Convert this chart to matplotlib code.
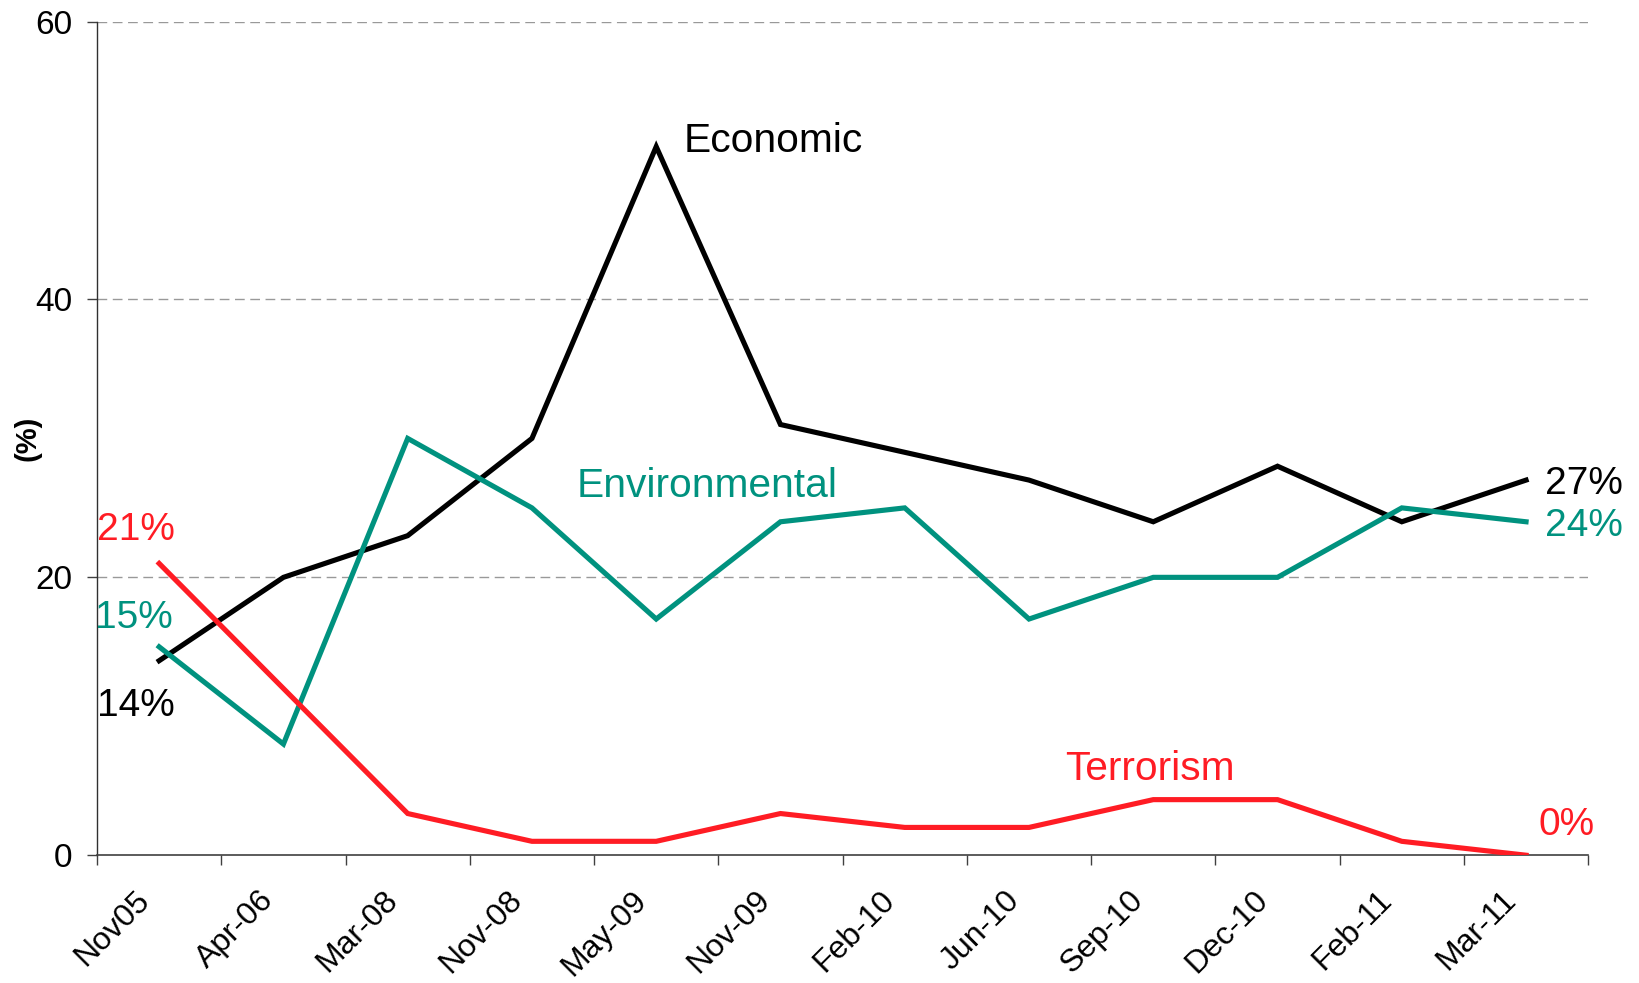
import numpy as np
import matplotlib
matplotlib.use("Agg")
import matplotlib.pyplot as plt
from matplotlib.transforms import ScaledTranslation

plt.rcParams['font.family'] = ['Liberation Sans', 'DejaVu Sans']

# Survey waves and share (%) naming each issue
dates = ['Nov05', 'Apr-06', 'Mar-08', 'Nov-08', 'May-09', 'Nov-09',
         'Feb-10', 'Jun-10', 'Sep-10', 'Dec-10', 'Feb-11', 'Mar-11']
economic = [14, 20, 23, 30, 51, 31, 29, 27, 24, 28, 24, 27]
environmental = [15, 8, 30, 25, 17, 24, 25, 17, 20, 20, 25, 24]
terrorism = [21, 12, 3, 1, 1, 3, 2, 2, 4, 4, 1, 0]

BLACK = '#000000'
TEAL = '#00927f'
RED = '#ff1c24'

fig = plt.figure(figsize=(16.39, 9.83), dpi=100)
ax = fig.add_axes([0.0592, 0.130, 0.9098, 0.848])

x = np.arange(len(dates))
lw = 3.7
ax.plot(x, economic, color=BLACK, lw=lw, solid_joinstyle='miter', zorder=3)
ax.plot(x, environmental, color=TEAL, lw=lw, solid_joinstyle='miter', zorder=3)
ax.plot(x, terrorism, color=RED, lw=lw, solid_joinstyle='miter', zorder=3)

ax.set_xlim(-0.5, len(dates) - 0.5)
ax.set_ylim(0, 60)

# category labels at bin centres, tick marks at bin edges
ax.set_xticks(x)
ax.set_xticklabels(dates, rotation=45, ha='right', va='top',
                   rotation_mode='anchor', fontsize=23)
ax.tick_params(axis='x', which='major', length=0, pad=21.5)
shift = ScaledTranslation(-25 / 100, 0, fig.dpi_scale_trans)
for lab in ax.get_xticklabels():
    lab.set_transform(lab.get_transform() + shift)
ax.set_xticks(np.arange(len(dates) + 1) - 0.5, minor=True)
ax.tick_params(axis='x', which='minor', length=7, width=1, color='#404040',
               direction='out')

ax.set_yticks([0, 20, 40, 60])
ax.tick_params(axis='y', labelsize=24, length=7, width=1, color='#404040',
               pad=11)
ax.set_ylabel('(%)', fontsize=21, fontweight='bold')
ax.yaxis.set_label_coords(-0.037, 0.5)

for v in [20, 40, 60]:
    ax.axhline(v, color='#999999', lw=1, dashes=(7, 4), zorder=1)

for s in ['top', 'right']:
    ax.spines[s].set_visible(False)
ax.spines['left'].set_color('#303030')
ax.spines['bottom'].set_color('#404040')
ax.spines['left'].set_linewidth(1)
ax.spines['bottom'].set_linewidth(1.2)

# series names
ax.text(4.22, 51.4, 'Economic', color=BLACK, fontsize=29.3, va='center')
ax.text(3.36, 26.6, 'Environmental', color=TEAL, fontsize=29.3, va='center')
ax.text(7.29, 6.2, 'Terrorism', color=RED, fontsize=29.3, va='center')

# first and last values
ax.text(-0.5, 23.4, f'{terrorism[0]}%', color=RED, fontsize=28, va='center')
ax.text(-0.52, 17.05, f'{environmental[0]}%', color=TEAL, fontsize=28, va='center')
ax.text(-0.5, 10.75, f'{economic[0]}%', color=BLACK, fontsize=28, va='center')
ax.text(11.15, 26.7, f'{economic[-1]}%', color=BLACK, fontsize=28, va='center')
ax.text(11.15, 23.7, f'{environmental[-1]}%', color=TEAL, fontsize=28, va='center')
ax.text(11.1, 2.2, f'{terrorism[-1]}%', color=RED, fontsize=28, va='center')

fig.savefig('out.png', dpi=100)
